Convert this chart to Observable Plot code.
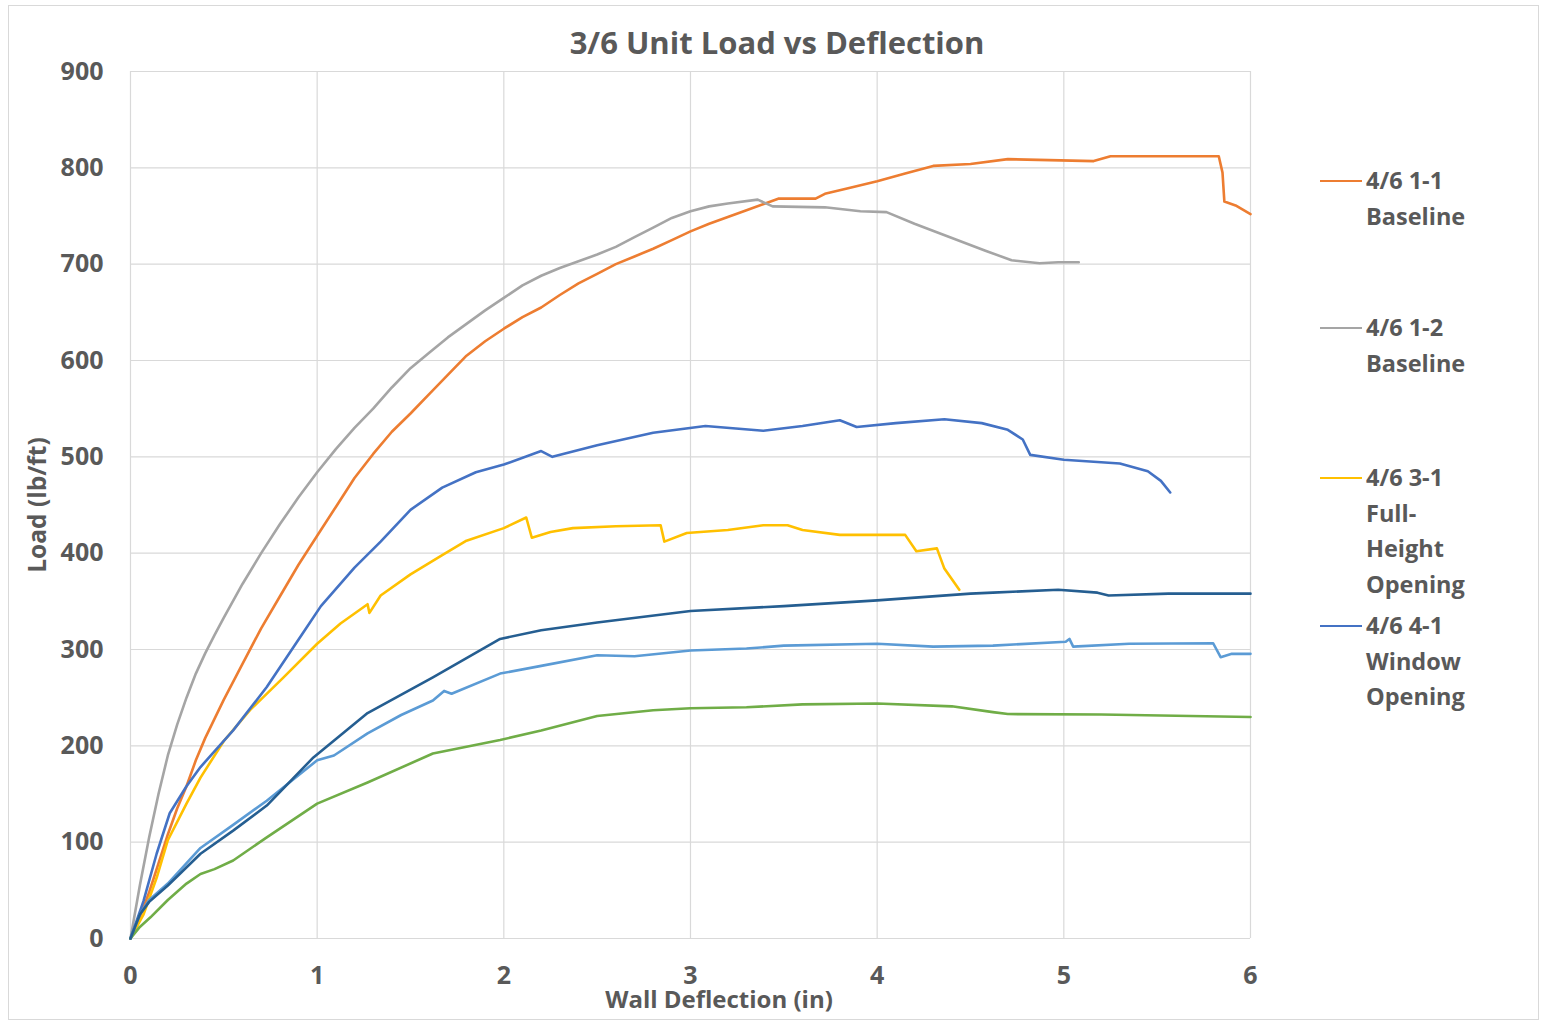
<!DOCTYPE html>
<html>
<head>
<meta charset="utf-8">
<script src="https://cdn.jsdelivr.net/npm/d3@7"></script>
<script src="https://cdn.jsdelivr.net/npm/@observablehq/plot@0.6"></script>
<style>
  html, body { margin: 0; padding: 0; background: #fff; }
  #wrap { position: relative; width: 1541px; height: 1023px; font-family: "Open Sans", Lato, sans-serif; font-weight: 700; color: #595959; }
  #border { position: absolute; left: 8px; top: 5px; width: 1531px; height: 1015px; border: 1px solid #d9d9d9; box-sizing: border-box; }
  #chart { position: absolute; left: 0; top: 0; }
  .lbl { position: absolute; white-space: nowrap; line-height: 1; }
  #title { left: 777px; top: 42px; transform: translate(-50%, -50%); font-size: 31px; }
  #xlabel { left: 719px; top: 999px; transform: translate(-50%, -50%); font-size: 24px; }
  #ylabel { left: 37px; top: 505px; transform: translate(-50%, -50%) rotate(-90deg); font-size: 24.5px; }
  .leg { position: absolute; left: 1320px; }
  .leg .sw { position: absolute; left: 0; width: 42px; height: 2.5px; }
  .leg .tx { position: absolute; left: 46px; font-size: 23.5px; line-height: 35.5px; white-space: nowrap; }
</style>
</head>
<body>
<div id="wrap">
  <div id="border"></div>
  <div id="chart"></div>
  <div id="title" class="lbl">3/6 Unit Load vs Deflection</div>
  <div id="xlabel" class="lbl">Wall Deflection (in)</div>
  <div id="ylabel" class="lbl">Load (lb/ft)</div>
</div>
<script>
// ---- Data (deflection in, load lb/ft) ----
const xTicks = [0, 1, 2, 3, 4, 5, 6];
const yTicks = [0, 100, 200, 300, 400, 500, 600, 700, 800, 900];

const seriesNames = ["4/6 1-1 Baseline", "4/6 1-2 Baseline", "4/6 3-1 Full-Height Opening", "4/6 4-1 Window Opening", "Series 5", "Series 6", "Series 7"];
const seriesColors = ["#ED7D31", "#A5A5A5", "#FFC000", "#4472C4", "#5B9BD5", "#70AD47", "#255E91"];

const legendNames = [["4/6 1-1", "Baseline"], ["4/6 1-2", "Baseline"], ["4/6 3-1", "Full-", "Height", "Opening"], ["4/6 4-1", "Window", "Opening"]];

const s11 = [[0,0],[0.05,22],[0.1,48],[0.15,78],[0.2,108],[0.25,135],[0.3,158],[0.35,185],[0.4,208],[0.45,228],[0.5,248],[0.6,285],[0.7,322],[0.8,355],[0.9,388],[1.0,418],[1.1,448],[1.2,478],[1.3,503],[1.4,526],[1.5,545],[1.6,565],[1.7,585],[1.8,605],[1.9,620],[2.0,633],[2.1,645],[2.2,655],[2.3,668],[2.4,680],[2.5,690],[2.6,700],[2.7,708],[2.8,716],[2.9,725],[3.0,734],[3.1,742],[3.2,749],[3.3,756],[3.4,763],[3.47,768],[3.67,768],[3.72,773],[3.85,779],[4.0,786],[4.15,794],[4.3,802],[4.5,804],[4.7,809],[5.16,807],[5.25,812],[5.83,812],[5.85,795],[5.86,765],[5.92,761],[6.0,752]];
const s12 = [[0,0],[0.05,55],[0.1,105],[0.15,150],[0.2,190],[0.25,222],[0.3,250],[0.35,275],[0.4,296],[0.45,315],[0.5,333],[0.6,368],[0.7,400],[0.8,430],[0.9,458],[1.0,484],[1.1,508],[1.2,530],[1.3,550],[1.4,572],[1.5,592],[1.6,608],[1.7,624],[1.8,638],[1.9,652],[2.0,665],[2.1,678],[2.2,688],[2.3,696],[2.4,703],[2.5,710],[2.6,718],[2.7,728],[2.8,738],[2.9,748],[3.0,755],[3.1,760],[3.2,763],[3.36,767],[3.44,760],[3.72,759],[3.91,755],[4.05,754],[4.2,742],[4.39,728],[4.58,714],[4.72,704],[4.87,701],[4.97,702],[5.08,702]];
const s31 = [[0,0],[0.07,25],[0.14,63],[0.2,102],[0.3,140],[0.375,167],[0.5,205],[0.64,237],[0.82,271],[1.0,306],[1.125,327],[1.27,347],[1.28,338],[1.34,356],[1.5,378],[1.67,398],[1.8,413],[2.0,426],[2.12,437],[2.15,416],[2.25,422],[2.37,426],[2.6,428],[2.84,429],[2.86,412],[2.98,421],[3.2,424],[3.39,429],[3.52,429],[3.6,424],[3.8,419],[4.15,419],[4.21,402],[4.32,405],[4.36,384],[4.44,362]];
const s41 = [[0,0],[0.07,39],[0.14,88],[0.21,130],[0.3,158],[0.375,178],[0.55,216],[0.73,261],[0.93,319],[1.02,345],[1.2,385],[1.34,412],[1.5,445],[1.67,468],[1.85,484],[2.0,492],[2.2,506],[2.26,500],[2.5,512],[2.8,525],[3.08,532],[3.39,527],[3.6,532],[3.8,538],[3.89,531],[4.1,535],[4.36,539],[4.56,535],[4.7,528],[4.78,518],[4.82,502],[5.0,497],[5.3,493],[5.45,485],[5.52,475],[5.57,463]];
const s5 = [[0,0],[0.05,25],[0.1,40],[0.2,57],[0.375,94],[0.55,118],[0.73,143],[0.91,171],[1.0,185],[1.09,190],[1.27,213],[1.45,232],[1.62,247],[1.68,257],[1.72,254],[1.98,275],[2.2,283],[2.5,294],[2.7,293],[3.0,299],[3.3,301],[3.5,304],[4.0,306],[4.3,303],[4.62,304],[5.01,308],[5.03,311],[5.05,303],[5.35,306],[5.8,306.5],[5.84,292],[5.9,295.5],[6.0,295.5]];
const s6 = [[0,0],[0.05,12],[0.107,22],[0.2,40],[0.3,57],[0.375,67],[0.45,72],[0.55,81],[0.73,105],[1.0,140],[1.27,162],[1.62,192],[1.98,206],[2.2,216],[2.5,231],[2.8,237],[3.0,239],[3.3,240],[3.6,243],[4.0,244],[4.4,241],[4.62,235],[4.7,233],[5.2,232.5],[6.0,230]];
const s7 = [[0,0],[0.05,25],[0.1,38],[0.2,55],[0.375,88],[0.55,112],[0.73,138],[0.98,188],[1.27,234],[1.62,271],[1.98,311],[2.2,320],[2.5,328],[3.0,340],[3.5,345],[4.0,351],[4.5,358],[4.62,359],[4.97,362],[5.18,359],[5.24,356],[5.56,358],[6.0,358]];

const seriesData = [s11, s12, s31, s41, s5, s6, s7];

// ---- Build table ----
const rows = [];
seriesData.forEach((arr, i) => arr.forEach(([d, l]) => rows.push({series: seriesNames[i], d, load: l})));

const chart = Plot.plot({
  width: 1541,
  height: 1023,
  marginLeft: 130,
  marginRight: 291,
  marginTop: 71,
  marginBottom: 85,
  style: {fontFamily: "'Open Sans', Lato, sans-serif", fontSize: "25px", fontWeight: 700, color: "#595959", background: "transparent"},
  x: {domain: [0, 6]},
  y: {domain: [0, 900]},
  color: {domain: seriesNames, range: seriesColors},
  marks: [
    Plot.gridX(xTicks, {stroke: "#d9d9d9", strokeOpacity: 1, strokeWidth: 1.2}),
    Plot.gridY(yTicks, {stroke: "#d9d9d9", strokeOpacity: 1, strokeWidth: 1.2}),
    Plot.axisX(xTicks, {tickSize: 0, tickPadding: 28, label: null, tickFormat: d => String(d)}),
    Plot.axisY(yTicks, {tickSize: 0, tickPadding: 27, label: null, tickFormat: d => String(d)}),
    Plot.line(rows, {x: "d", y: "load", z: "series", stroke: "series", strokeWidth: 2.6, curve: "linear"})
  ]
});
document.getElementById("chart").appendChild(chart);

// ---- Legend (only first four series shown, as in reference) ----
const legTops = [181, 328, 478, 626];
const wrap = document.getElementById("wrap");
legendNames.forEach((lines, i) => {
  const g = document.createElement("div");
  g.className = "leg";
  g.style.top = legTops[i] + "px";
  const sw = document.createElement("div");
  sw.className = "sw";
  sw.style.top = "-1.25px";
  sw.style.background = seriesColors[i];
  g.appendChild(sw);
  const tx = document.createElement("div");
  tx.className = "tx";
  tx.style.top = "-17.75px";
  tx.innerHTML = lines.join("<br>");
  g.appendChild(tx);
  wrap.appendChild(g);
});
</script>
</body>
</html>
